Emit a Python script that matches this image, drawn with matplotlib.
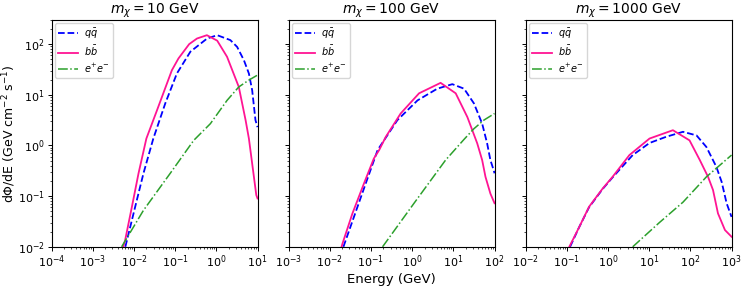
import matplotlib.pyplot as plt

# dark matter masses (GeV)
masses = [10, 100, 1000]

# m_chi = 10 GeV
E_qq_10 = [0.00617, 0.00676, 0.0107, 0.0170, 0.0295, 0.0575, 0.110, 0.234, 0.596, 1.05, 2.19, 3.20, 4.68, 6.17,
           7.41, 8.91, 10.0]
F_qq_10 = [0.01, 0.0135, 0.0617, 0.282, 1.37, 6.76, 26.3, 70.8, 129, 150, 120, 88, 47.9, 26.3, 12.3, 3.16, 2.3]
E_bb_10 = [0.00550, 0.00610, 0.00891, 0.0129, 0.0200, 0.0363, 0.0832, 0.120, 0.219, 0.339, 0.589, 1.05, 1.82,
           3.51, 5.13, 6.17, 7.41, 9.33, 10.0]
F_bb_10 = [0.01, 0.0135, 0.0617, 0.282, 1.37, 4.97, 30.5, 52.0, 100, 129, 150, 117, 56.2, 14.3, 3.16, 1.37,
           0.44, 0.105, 0.09]
E_ee_10 = [0.00501, 0.0170, 0.0759, 0.282, 0.716, 1.82, 3.51, 6.17, 10.0]
F_ee_10 = [0.01, 0.0525, 0.282, 1.26, 2.69, 7.76, 14.3, 19.5, 24.5]

# m_chi = 100 GeV
E_qq_100 = [0.0214, 0.0708, 0.145, 0.437, 1.35, 4.07, 9.44, 18.2, 31.6, 50.1, 66.1, 79.4, 95.5, 100.0]
F_qq_100 = [0.01, 0.158, 0.813, 3.16, 7.76, 13.2, 16.2, 13.2, 6.76, 2.69, 1.10, 0.513, 0.324, 0.282]
E_bb_100 = [0.0193, 0.0204, 0.0355, 0.0676, 0.117, 0.158, 0.229, 0.525, 1.47, 4.90, 11.4, 21.9, 38.0, 50.1,
            60.3, 79.4, 100.0]
F_bb_100 = [0.01, 0.0117, 0.0457, 0.178, 0.550, 0.813, 1.48, 4.27, 10.7, 17.2, 10.7, 3.63, 1.10, 0.513,
            0.240, 0.112, 0.0724]
E_ee_100 = [0.191, 1.11, 6.46, 18.2, 31.6, 55.0, 100.0]
F_ee_100 = [0.01, 0.0724, 0.513, 1.32, 2.14, 3.16, 4.27]

# m_chi = 1000 GeV
E_qq_1000 = [0.120, 0.200, 0.347, 0.741, 1.29, 3.98, 10.2, 25.7, 66.1, 141, 245, 427, 575, 759, 1000]
F_qq_1000 = [0.01, 0.0245, 0.0603, 0.138, 0.234, 0.646, 1.12, 1.48, 1.86, 1.58, 0.933, 0.380, 0.191, 0.0724,
             0.0389]
E_bb_1000 = [0.115, 0.200, 0.347, 0.741, 1.29, 3.31, 10.2, 37.7, 95.5, 170, 269, 355, 468, 692, 1000]
F_bb_1000 = [0.01, 0.0245, 0.0617, 0.141, 0.240, 0.646, 1.37, 2.0, 1.26, 0.513, 0.240, 0.132, 0.0457, 0.0214,
             0.0158]
E_ee_1000 = [3.98, 17.8, 66.1, 245, 1000]
F_ee_1000 = [0.01, 0.0302, 0.0759, 0.240, 0.646]

spectra = [
    (E_qq_10, F_qq_10, E_bb_10, F_bb_10, E_ee_10, F_ee_10),
    (E_qq_100, F_qq_100, E_bb_100, F_bb_100, E_ee_100, F_ee_100),
    (E_qq_1000, F_qq_1000, E_bb_1000, F_bb_1000, E_ee_1000, F_ee_1000),
]

fig, axes = plt.subplots(1, 3, sharey=True, figsize=(7.48, 2.89), dpi=100)
plt.subplots_adjust(left=0.069, right=0.978, bottom=0.146, top=0.931, wspace=0.151)

for ax, m, (eq, fq, eb, fb, ee, fe) in zip(axes, masses, spectra):
    ax.plot(eq, fq, '--', color='blue', lw=1.3, label=r'$q\bar{q}$')
    ax.plot(eb, fb, '-', color='#ff1493', lw=1.3, label=r'$b\bar{b}$')
    ax.plot(ee, fe, '-.', color='#2ca02c', lw=1.1, label=r'$e^{+}e^{-}$')
    ax.set_xscale('log')
    ax.set_yscale('log')
    ax.set_xlim(m * 1e-5, m)
    ax.set_ylim(1e-2, 3e2)
    ax.set_title(r'$m_\chi = %d$ GeV' % m, fontsize=10, pad=3)
    ax.tick_params(which='major', labelsize=8, length=3, width=0.7, pad=2)
    ax.tick_params(which='minor', length=1.7, width=0.5)
    ax.legend(loc='upper left', fontsize=7, borderpad=0.35, labelspacing=0.35, handletextpad=0.6,
              borderaxespad=0.35)

axes[0].set_ylabel(r'd$\Phi$/dE (GeV cm$^{-2}$ s$^{-1}$)', fontsize=9)
axes[0].yaxis.set_label_coords(-0.165, 0.5)
axes[1].set_xlabel('Energy (GeV)', fontsize=9.5, labelpad=2)

plt.savefig('out.png')
